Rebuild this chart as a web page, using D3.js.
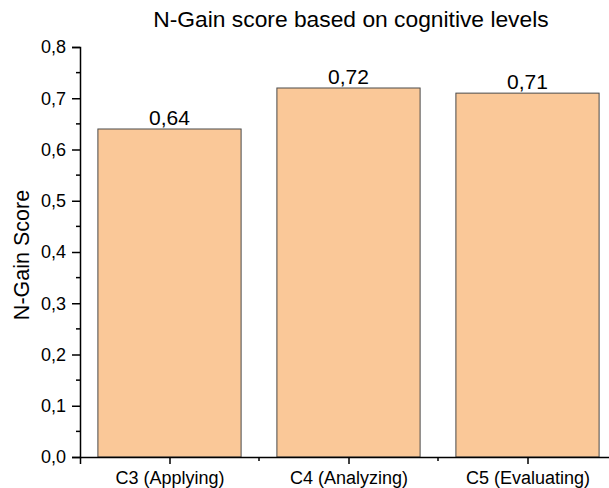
<!DOCTYPE html>
<meta charset="utf-8">
<style>
body { margin: 0; background: white; }
text { font-family: "Liberation Sans", Arial, sans-serif; fill: #000; }
.bar { fill: #fac898; stroke: #4a4a4a; stroke-width: 1px; }
.axis path, .axis line { stroke: #000; stroke-width: 1.5px; }
</style>
<svg width="609" height="488"></svg>
<script src="https://d3js.org/d3.v7.min.js"></script>
<script>

var categories = ["C3 (Applying)", "C4 (Analyzing)", "C5 (Evaluating)"];
var scores = [0.64, 0.72, 0.71];
var yTicks = [0, 0.1, 0.2, 0.3, 0.4, 0.5, 0.6, 0.7, 0.8];

var svg = d3.select("svg"),
    margin = {top: 47, left: 80},
    step = 179,
    height = 410;

var fmt = function(v, n) { return v.toFixed(n).replace(".", ","); };

// categories sit on 1,2,3; axis spans half a step either side
var x = d3.scaleLinear().domain([0.5, 3.5]).range([0, step * 3]),
    y = d3.scaleLinear().domain([0, 0.8]).range([height, 0]);

var g = svg.append("g")
    .attr("transform", "translate(" + margin.left + "," + margin.top + ")");

var barW = step * 0.8;

g.selectAll(".bar")
    .data(scores)
  .enter().append("rect")
    .attr("class", "bar")
    .attr("x", function(d, i) { return x(i + 1) - barW / 2; })
    .attr("y", function(d) { return y(d); })
    .attr("width", barW)
    .attr("height", function(d) { return y(0) - y(d); });

g.selectAll(".val")
    .data(scores)
  .enter().append("text")
    .attr("class", "val")
    .attr("x", function(d, i) { return x(i + 1); })
    .attr("y", function(d) { return y(d) - 4; })
    .attr("text-anchor", "middle")
    .style("font-size", "21px")
    .text(function(d) { return fmt(d, 2); });

// y axis with minor ticks
var yAxis = d3.axisLeft(y).tickValues(yTicks).tickSizeOuter(0).tickSize(8).tickPadding(6)
    .tickFormat(function(d) { return fmt(d, 1); });
var gy = g.append("g").attr("class", "axis").call(yAxis);
gy.selectAll("text").style("font-size", "18px");
gy.selectAll(".minor")
    .data(yTicks.slice(0, -1))
  .enter().append("line")
    .attr("x1", -4).attr("x2", 0)
    .attr("y1", function(d) { return y(d + 0.05); })
    .attr("y2", function(d) { return y(d + 0.05); });

// x axis
var xAxis = d3.axisBottom(x).tickValues([1, 2, 3]).tickSizeOuter(0).tickSize(7).tickPadding(7)
    .tickFormat(function(d) { return categories[d - 1]; });
var gx = g.append("g").attr("class", "axis")
    .attr("transform", "translate(0," + height + ")")
    .call(xAxis);
gx.selectAll("text").style("font-size", "18px");
gx.selectAll(".minor")
    .data([1.5, 2.5])
  .enter().append("line")
    .attr("y1", 0).attr("y2", 4)
    .attr("x1", function(d) { return x(d); })
    .attr("x2", function(d) { return x(d); });

svg.append("text")
    .attr("x", 351)
    .attr("y", 27)
    .attr("text-anchor", "middle")
    .style("font-size", "22.8px")
    .text("N-Gain score based on cognitive levels");

svg.append("text")
    .attr("transform", "translate(29," + 255 + ") rotate(-90)")
    .attr("text-anchor", "middle")
    .style("font-size", "21.5px")
    .text("N-Gain Score");

</script>
